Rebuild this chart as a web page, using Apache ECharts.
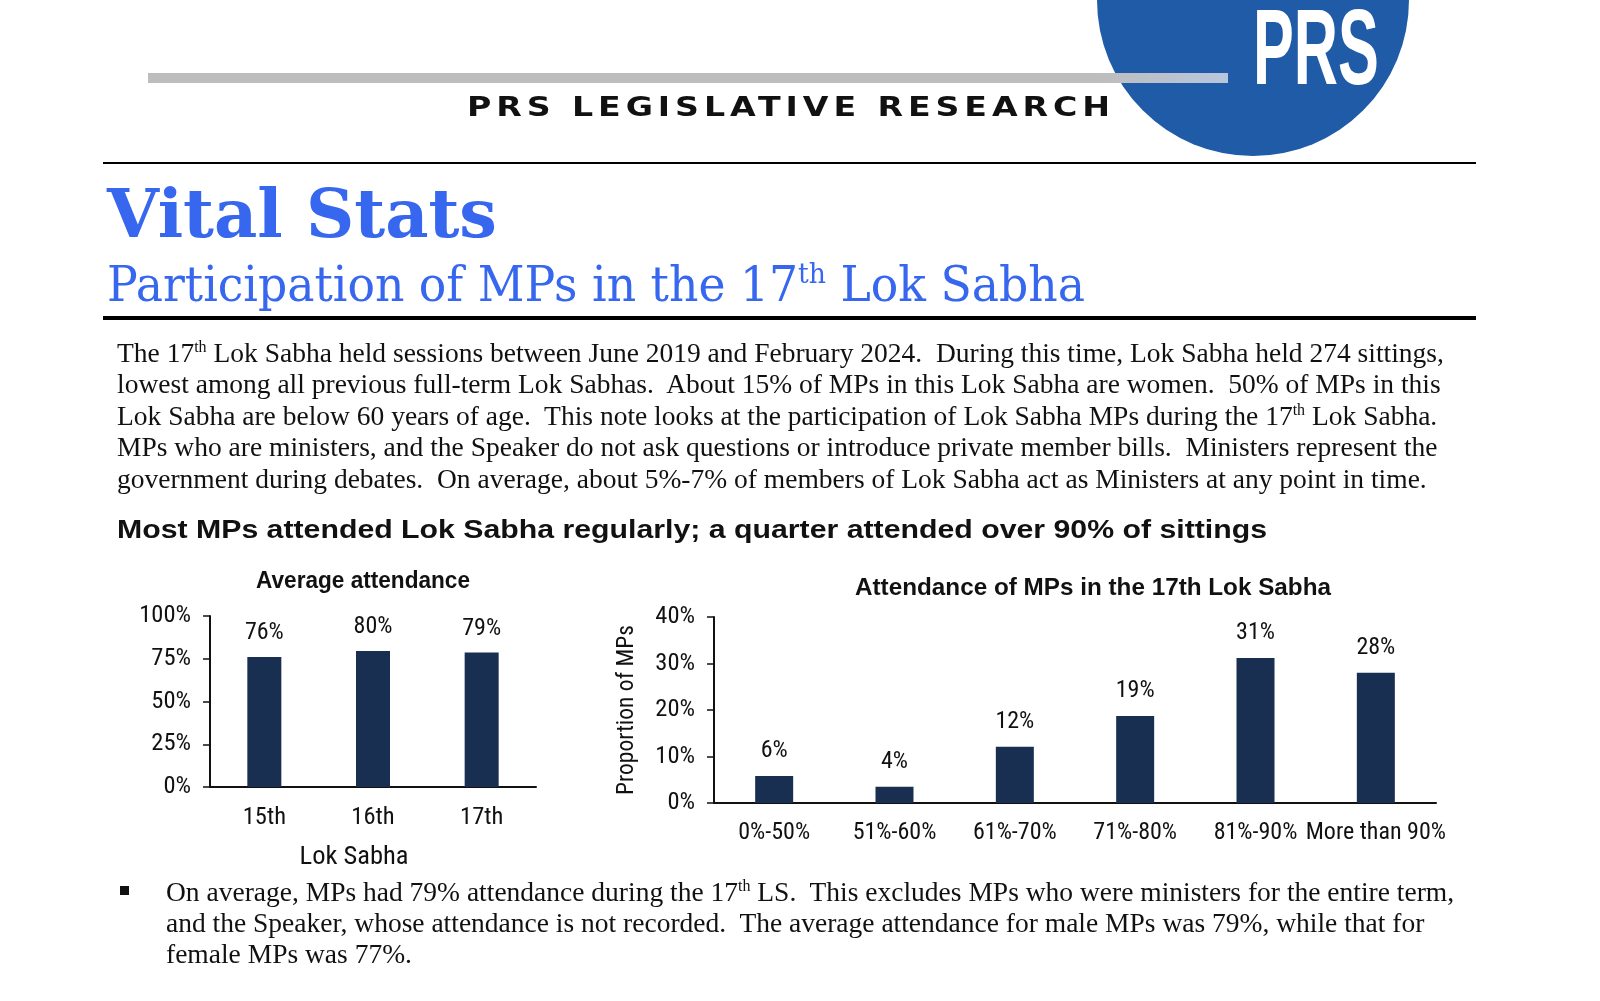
<!DOCTYPE html>
<html>
<head>
<meta charset="utf-8">
<script src="https://cdn.jsdelivr.net/npm/echarts@6/dist/echarts.min.js"></script>
<style>
  html, body { margin: 0; padding: 0; background: #fff; }
  #page { position: relative; width: 1600px; height: 1001px; overflow: hidden; background: #fff; }
  #chart { position: absolute; left: 0; top: 0; width: 1600px; height: 1001px; }
  .t { position: absolute; white-space: pre; line-height: 1; transform-origin: 0 0; z-index: 3; }
  .serif { font-family: "Liberation Serif", "Times New Roman", serif; color: #111; font-size: 27.5px; line-height: 31.4px; }
  sup.s { font-size: 16px; vertical-align: 10px; line-height: 0; }
  .rule { position: absolute; background: #000; z-index: 3; }
</style>
</head>
<body>
<div id="page">
  <div id="chart"></div>

  <!-- header -->
  <div style="position:absolute;left:1097px;top:-156px;width:312px;height:312px;border-radius:50%;background:#1f5ba7;z-index:1"></div>
  <div style="position:absolute;left:148px;top:73px;width:1080px;height:10px;background:linear-gradient(90deg,#bdbdbd 0%,#bdbdbd 88%,#b8c6dc 100%);z-index:2"></div>
  <div class="t fit" data-w="126" style="left:1253px;top:-6px;font-family:'Liberation Sans Narrow','Liberation Sans',sans-serif;font-weight:bold;font-size:107px;color:#fff;">PRS</div>
  <div class="t fit" data-w="648" style="left:467px;top:93px;font-family:'DejaVu Sans',sans-serif;font-weight:bold;font-size:27px;color:#111;letter-spacing:4px;">PRS LEGISLATIVE RESEARCH</div>

  <div class="rule" style="left:103px;top:162px;width:1373px;height:2px;"></div>

  <div class="t fit" data-w="390" style="left:107px;top:180px;font-family:'DejaVu Serif',serif;font-weight:bold;font-size:67px;color:#3767ef;">Vital Stats</div>
  <div class="t fit" data-w="978" style="left:107px;top:260px;font-family:'DejaVu Serif',serif;font-size:48px;color:#3767ef;">Participation of MPs in the 17<sup style="font-size:28px;vertical-align:18px;line-height:0">th</sup> Lok Sabha</div>

  <div class="rule" style="left:103px;top:316px;width:1373px;height:4px;"></div>

  <div class="t serif" style="left:117px;top:337px;">The 17<sup class="s">th</sup> Lok Sabha held sessions between June 2019 and February 2024.  During this time, Lok Sabha held 274 sittings,
lowest among all previous full-term Lok Sabhas.  About 15% of MPs in this Lok Sabha are women.  50% of MPs in this
Lok Sabha are below 60 years of age.  This note looks at the participation of Lok Sabha MPs during the 17<sup class="s">th</sup> Lok Sabha.
MPs who are ministers, and the Speaker do not ask questions or introduce private member bills.  Ministers represent the
government during debates.  On average, about 5%-7% of members of Lok Sabha act as Ministers at any point in time.</div>

  <div class="t fit" data-w="1150" style="left:117px;top:516px;font-family:'Liberation Sans',Arial,sans-serif;font-weight:bold;font-size:26px;color:#111;">Most MPs attended Lok Sabha regularly; a quarter attended over 90% of sittings</div>

  <div style="position:absolute;left:120px;top:886px;width:9px;height:9px;background:#111;z-index:3"></div>
  <div class="t serif" style="left:166px;top:876px;line-height:31px;">On average, MPs had 79% attendance during the 17<sup class="s">th</sup> LS.  This excludes MPs who were ministers for the entire term,
and the Speaker, whose attendance is not recorded.  The average attendance for male MPs was 79%, while that for
female MPs was 77%.</div>
</div>

<script>
// ---- data ----
var lokSabhaCategories = ['15th', '16th', '17th'];
var averageAttendance = [76, 79.6, 78.6];
var attendanceBands = ['0%-50%', '51%-60%', '61%-70%', '71%-80%', '81%-90%', 'More than 90%'];
var proportionOfMPs = [5.8, 3.5, 12.1, 18.7, 31.2, 28.0];
var chart1Title = 'Average attendance';
var chart2Title = 'Attendance of MPs in the 17th Lok Sabha';
var chart1XName = 'Lok Sabha';
var chart2YName = 'Proportion of MPs';

// fit widths of header texts
document.querySelectorAll('.fit').forEach(function (el) {
  var target = parseFloat(el.getAttribute('data-w'));
  var w = el.getBoundingClientRect().width;
  if (w > 0) el.style.transform = 'scaleX(' + (target / w) + ')';
});

var ctx = document.createElement('canvas').getContext('2d');
function hasFont(name) {
  var s = 'More than 90% Proportion of MPs';
  var ok = false;
  ['monospace', 'serif'].forEach(function (fb) {
    ctx.font = '40px ' + fb; var a = ctx.measureText(s).width;
    ctx.font = '40px "' + name + '", ' + fb; var b = ctx.measureText(s).width;
    if (a !== b) ok = true;
  });
  return ok;
}
var narrowCandidates = ['Liberation Sans Narrow', 'Arial Narrow', 'Roboto Condensed', 'DejaVu Sans Condensed'];
var NARROW = 'DejaVu Sans Condensed';
for (var i = 0; i < narrowCandidates.length; i++) {
  if (hasFont(narrowCandidates[i])) { NARROW = narrowCandidates[i]; break; }
}
NARROW = '"' + NARROW + '", "Liberation Sans", sans-serif';
var TITLEFONT = 'bold 24px "Liberation Sans", Arial, sans-serif';
function fitScale(text, target) {
  ctx.font = TITLEFONT;
  return target / ctx.measureText(text).width;
}

var BAR = '#182f51';
var AX = '#111';

var chart = echarts.init(document.getElementById('chart'), null, { renderer: 'canvas' });

function yAxis(gi, max, interval, extra) {
  return Object.assign({
    type: 'value', gridIndex: gi, min: 0, max: max, interval: interval,
    axisLine: { show: true, lineStyle: { color: AX, width: 2 } },
    axisTick: { show: true, length: 7, lineStyle: { color: AX, width: 1.5 } },
    splitLine: { show: false },
    axisLabel: { formatter: '{value}%', color: '#111', fontFamily: NARROW, fontSize: 24.5, margin: 19 }
  }, extra || {});
}
function xAxis(gi, data, size, extra) {
  return Object.assign({
    type: 'category', gridIndex: gi, data: data,
    axisLine: { show: true, lineStyle: { color: AX, width: 2 } },
    axisTick: { show: false },
    axisLabel: { color: '#111', fontFamily: NARROW, fontSize: size, margin: 18, interval: 0 }
  }, extra || {});
}

chart.setOption({
  animation: false,
  grid: [
    { left: 210, top: 616, width: 326, height: 171 },
    { left: 714, top: 617, width: 722, height: 186 }
  ],
  xAxis: [
    xAxis(0, lokSabhaCategories, 24.5, {
      name: chart1XName, nameLocation: 'middle', nameGap: 57,
      nameTextStyle: { color: '#111', fontFamily: NARROW, fontSize: 26.5, padding: [0, 38, 0, 0] }
    }),
    xAxis(1, attendanceBands, 24)
  ],
  yAxis: [
    yAxis(0, 100, 25),
    yAxis(1, 40, 10, {
      name: chart2YName, nameLocation: 'middle', nameGap: 75, nameRotate: 90,
      nameTextStyle: { color: '#111', fontFamily: NARROW, fontSize: 23.5 }
    })
  ],
  series: [
    {
      type: 'bar', xAxisIndex: 0, yAxisIndex: 0, data: averageAttendance, barWidth: 34,
      itemStyle: { color: BAR },
      label: { show: true, position: 'top', distance: 12, color: '#111', fontFamily: NARROW, fontSize: 24,
        formatter: function (p) { return Math.round(p.value) + '%'; } }
    },
    {
      type: 'bar', xAxisIndex: 1, yAxisIndex: 1, data: proportionOfMPs, barWidth: 38,
      itemStyle: { color: BAR },
      label: { show: true, position: 'top', distance: 13, color: '#111', fontFamily: NARROW, fontSize: 24,
        formatter: function (p) { return Math.round(p.value) + '%'; } }
    }
  ],
  graphic: [
    { type: 'text', x: 363, y: 581, scaleX: fitScale(chart1Title, 214),
      style: { text: chart1Title, fill: '#111', font: TITLEFONT, textAlign: 'center', textVerticalAlign: 'middle' } },
    { type: 'text', x: 1093, y: 588, scaleX: fitScale(chart2Title, 476),
      style: { text: chart2Title, fill: '#111', font: TITLEFONT, textAlign: 'center', textVerticalAlign: 'middle' } }
  ]
});
</script>
</body>
</html>
